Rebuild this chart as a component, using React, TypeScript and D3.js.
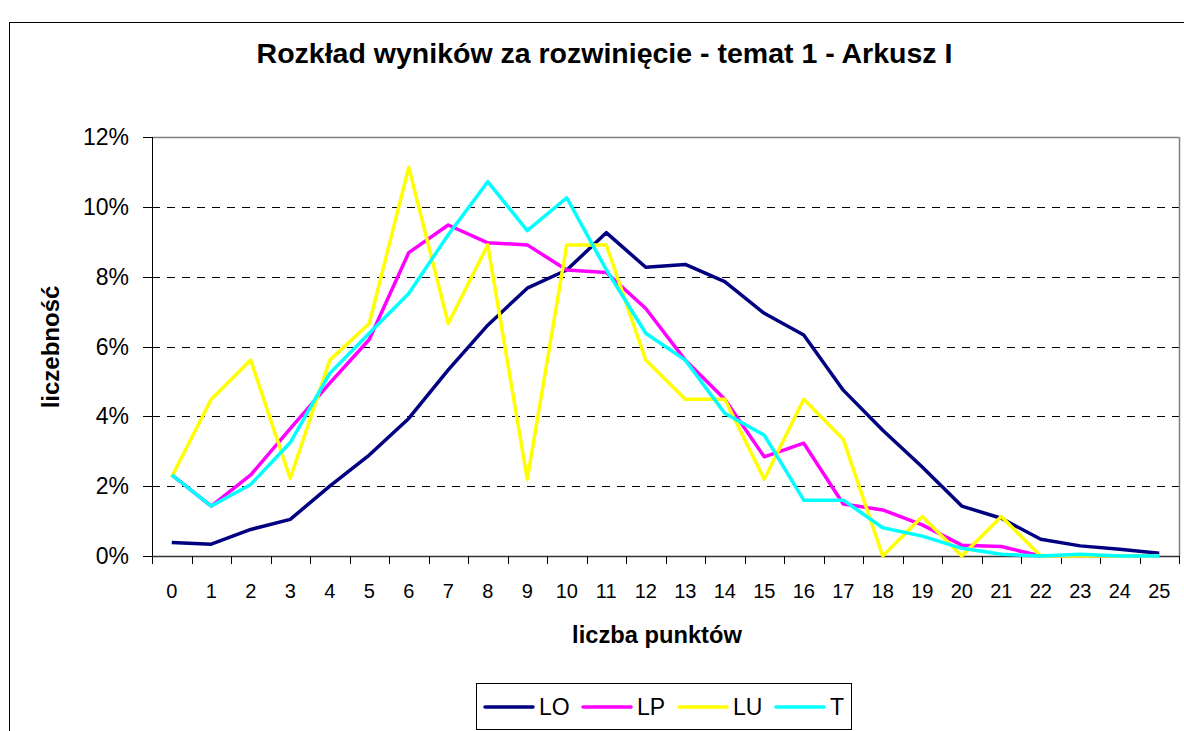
import React from "react";
import * as d3 from "d3";

const categories: number[] = d3.range(0, 26);
const seriesNames = ["LO", "LP", "LU", "T"];
const seriesColors = ["#000080", "#FF00FF", "#FFFF00", "#00FFFF"];

const LO = [0.39, 0.34, 0.76, 1.05, 2.0, 2.89, 3.94, 5.33, 6.61, 7.67, 8.19, 9.26, 8.27, 8.35, 7.86, 6.95, 6.33, 4.75, 3.6, 2.55, 1.43, 1.08, 0.48, 0.29, 0.19, 0.08];
const LP = [2.32, 1.43, 2.32, 3.65, 4.95, 6.2, 8.69, 9.48, 8.97, 8.91, 8.19, 8.12, 7.09, 5.61, 4.49, 2.84, 3.23, 1.49, 1.32, 0.89, 0.31, 0.27, 0, 0, 0, 0];
const LU = [2.27, 4.49, 5.61, 2.22, 5.61, 6.66, 11.13, 6.66, 8.91, 2.2, 8.91, 8.91, 5.61, 4.49, 4.49, 2.2, 4.49, 3.34, 0, 1.13, 0, 1.13, 0, 0, 0, 0];
const T = [2.32, 1.43, 2.05, 3.25, 5.23, 6.38, 7.52, 9.2, 10.72, 9.32, 10.26, 8.2, 6.38, 5.61, 4.09, 3.46, 1.6, 1.6, 0.81, 0.57, 0.22, 0.05, 0, 0.05, 0, 0];
const seriesValues = [LO, LP, LU, T];
const yTicks = [0, 2, 4, 6, 8, 10, 12];

const title = "Rozkład wyników za rozwinięcie - temat 1 - Arkusz I";
const xTitle = "liczba punktów";
const yTitle = "liczebność";

export default function App() {
  const W = 1184, H = 731;
  const left = 152, right = 1179, top = 137, bottom = 556;
  const x = d3.scaleBand<number>().domain(categories).range([left, right]).padding(0);
  const y = d3.scaleLinear().domain([0, 12]).range([bottom, top]);
  const cx = (i: number) => (x(i) as number) + x.bandwidth() / 2;
  const line = d3.line<number>().x((_, i) => cx(categories[i])).y((v) => y(v));
  const font = "Arial, 'Liberation Sans', sans-serif";
  const legendX = [485, 583, 679, 776];

  return (
    <svg width={W} height={H} style={{ position: "absolute", left: 0, top: 0, background: "#fff" }} fontFamily={font}>
      <rect x={9.5} y={22.5} width={W + 20} height={H + 20} fill="#fff" stroke="#000" strokeWidth={1} />
      <text x={604.5} y={63} textAnchor="middle" fontSize={28.5} fontWeight="bold">{title}</text>
      {/* gridlines */}
      {yTicks.filter((t) => t > 0 && t < 12).map((t) => (
        <line key={t} x1={left} x2={right} y1={Math.round(y(t)) + 0.5} y2={Math.round(y(t)) + 0.5} stroke="#000" strokeWidth={1} strokeDasharray="8,7" />
      ))}
      {/* plot border */}
      <line x1={left} x2={right} y1={top + 0.5} y2={top + 0.5} stroke="#808080" strokeWidth={1.5} />
      <line x1={right + 0.5} x2={right + 0.5} y1={top} y2={bottom} stroke="#808080" strokeWidth={1.5} />
      {/* axes */}
      <line x1={left + 0.5} x2={left + 0.5} y1={top} y2={bottom} stroke="#000" strokeWidth={1} />
      <line x1={left} x2={right} y1={bottom + 0.5} y2={bottom + 0.5} stroke="#333" strokeWidth={1.5} />
      {yTicks.map((t) => (
        <g key={t}>
          <line x1={143} x2={left} y1={Math.round(y(t)) + 0.5} y2={Math.round(y(t)) + 0.5} stroke="#000" />
          <text x={129} y={y(t) + 8} textAnchor="end" fontSize={23}>{t + "%"}</text>
        </g>
      ))}
      {categories.map((c) => (
        <line key={"t" + c} x1={Math.round(x(c) as number) + 0.5} x2={Math.round(x(c) as number) + 0.5} y1={bottom} y2={bottom + 8} stroke="#000" />
      ))}
      <line x1={right + 0.5} x2={right + 0.5} y1={bottom} y2={bottom + 8} stroke="#000" />
      {categories.map((c) => (
        <text key={"l" + c} x={cx(c)} y={598} textAnchor="middle" fontSize={20}>{String(c)}</text>
      ))}
      <text x={657} y={643} textAnchor="middle" fontSize={23.7} fontWeight="bold">{xTitle}</text>
      <text transform={`translate(59,347) rotate(-90)`} textAnchor="middle" fontSize={24} fontWeight="bold">{yTitle}</text>
      {/* series */}
      {seriesValues.map((vals, k) => (
        <path key={seriesNames[k]} d={line(vals) || ""} fill="none" stroke={seriesColors[k]} strokeWidth={3.5} strokeLinejoin="round" />
      ))}
      {/* legend */}
      <rect x={476.5} y={683.5} width={375} height={46} fill="#fff" stroke="#000" strokeWidth={1} />
      {seriesNames.map((n, k) => (
        <g key={"lg" + n}>
          <line x1={legendX[k]} x2={legendX[k] + 48} y1={707} y2={707} stroke={seriesColors[k]} strokeWidth={3.5} strokeLinecap="round" />
          <text x={legendX[k] + 54} y={715} fontSize={23}>{n}</text>
        </g>
      ))}
    </svg>
  );
}
